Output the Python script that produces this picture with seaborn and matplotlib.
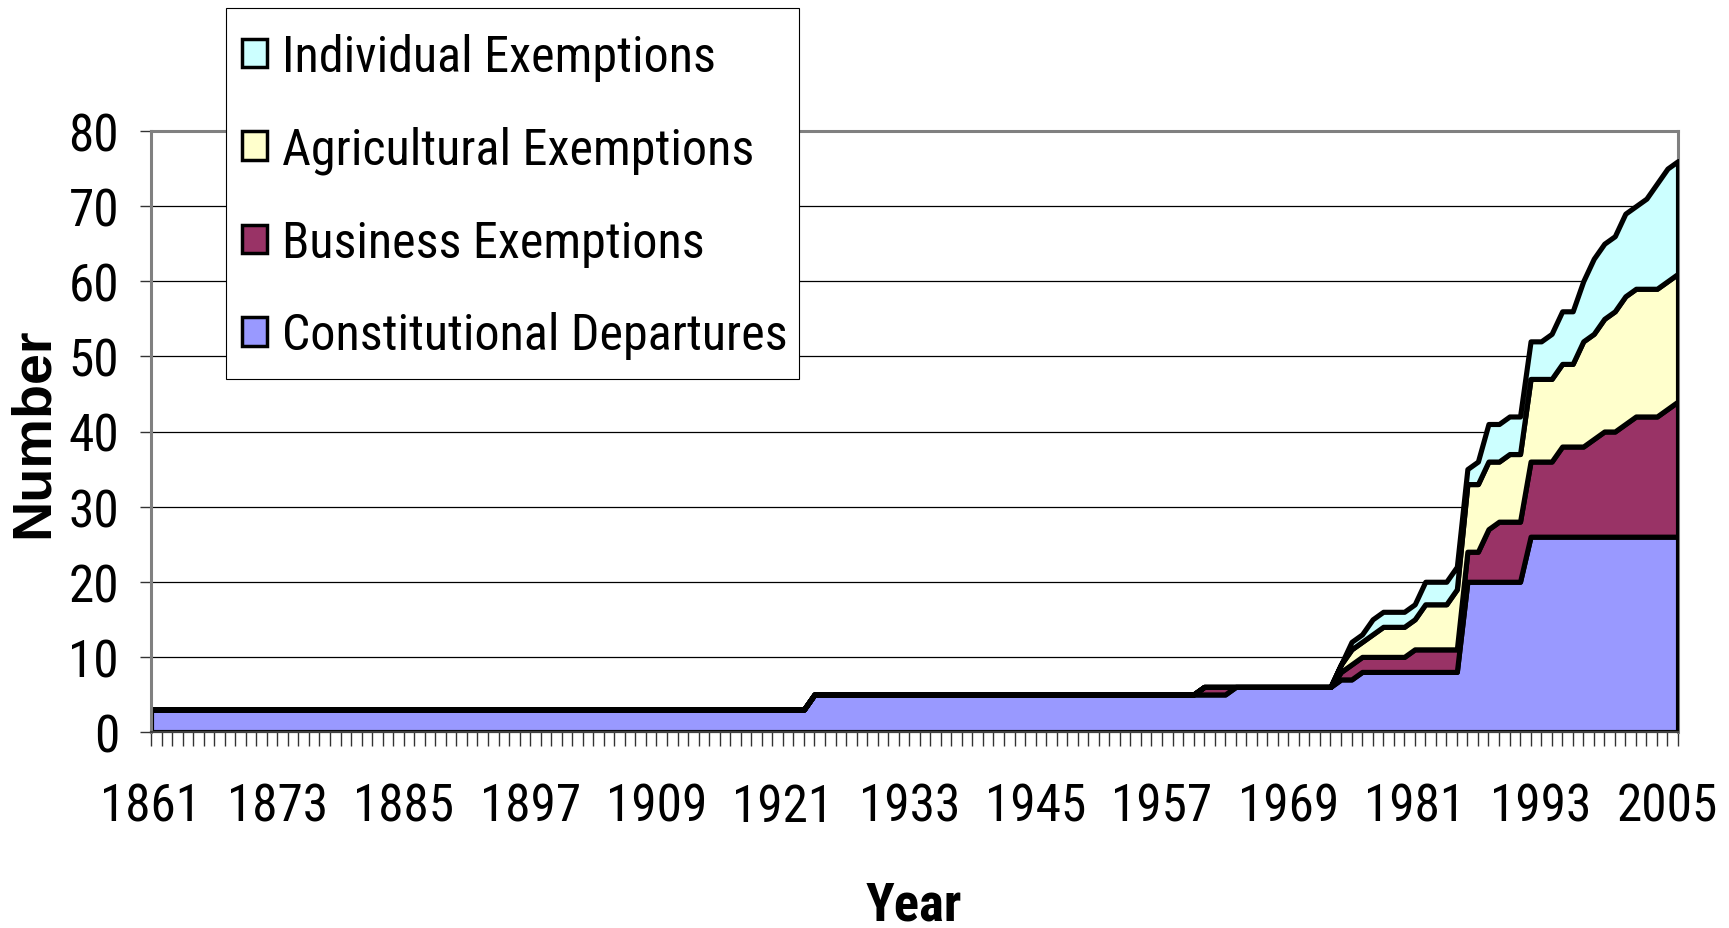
import matplotlib
matplotlib.use("Agg")
import matplotlib.pyplot as plt
import seaborn as sns
import pandas as pd
from matplotlib.patches import Patch, Rectangle
from matplotlib import font_manager as fm
from matplotlib.font_manager import FontProperties
from matplotlib.textpath import TextPath

# ---------------- data ----------------
years = list(range(1861, 2007))
labeled_years = [1861, 1873, 1885, 1897, 1909, 1921, 1933, 1945, 1957, 1969, 1981, 1993, 2005]
y_ticks = [0, 10, 20, 30, 40, 50, 60, 70, 80]

constitutional = [
    3, 3, 3, 3, 3, 3, 3, 3, 3, 3,          # 1861-1870
    3, 3, 3, 3, 3, 3, 3, 3, 3, 3,          # 1871-1880
    3, 3, 3, 3, 3, 3, 3, 3, 3, 3,          # 1881-1890
    3, 3, 3, 3, 3, 3, 3, 3, 3, 3,          # 1891-1900
    3, 3, 3, 3, 3, 3, 3, 3, 3, 3,          # 1901-1910
    3, 3, 3, 3, 3, 3, 3, 3, 3, 3,          # 1911-1920
    3, 3, 3, 5, 5, 5, 5, 5, 5, 5,          # 1921-1930
    5, 5, 5, 5, 5, 5, 5, 5, 5, 5,          # 1931-1940
    5, 5, 5, 5, 5, 5, 5, 5, 5, 5,          # 1941-1950
    5, 5, 5, 5, 5, 5, 5, 5, 5, 5,          # 1951-1960
    5, 5, 5, 6, 6, 6, 6, 6, 6, 6,          # 1961-1970
    6, 6, 6, 7, 7, 8, 8, 8, 8, 8,          # 1971-1980
    8, 8, 8, 8, 8, 20, 20, 20, 20, 20,     # 1981-1990
    20, 26, 26, 26, 26, 26, 26, 26, 26, 26,  # 1991-2000
    26, 26, 26, 26, 26, 26,                # 2001-2006
]
business = [
    0, 0, 0, 0, 0, 0, 0, 0, 0, 0,
    0, 0, 0, 0, 0, 0, 0, 0, 0, 0,
    0, 0, 0, 0, 0, 0, 0, 0, 0, 0,
    0, 0, 0, 0, 0, 0, 0, 0, 0, 0,
    0, 0, 0, 0, 0, 0, 0, 0, 0, 0,
    0, 0, 0, 0, 0, 0, 0, 0, 0, 0,
    0, 0, 0, 0, 0, 0, 0, 0, 0, 0,
    0, 0, 0, 0, 0, 0, 0, 0, 0, 0,
    0, 0, 0, 0, 0, 0, 0, 0, 0, 0,
    0, 0, 0, 0, 0, 0, 0, 0, 0, 0,
    1, 1, 1, 0, 0, 0, 0, 0, 0, 0,          # 1961-1970
    0, 0, 0, 1, 2, 2, 2, 2, 2, 2,          # 1971-1980
    3, 3, 3, 3, 3, 4, 4, 7, 8, 8,          # 1981-1990
    8, 10, 10, 10, 12, 12, 12, 13, 14, 14,  # 1991-2000
    15, 16, 16, 16, 17, 18,                # 2001-2006
]
agricultural = [
    0, 0, 0, 0, 0, 0, 0, 0, 0, 0,
    0, 0, 0, 0, 0, 0, 0, 0, 0, 0,
    0, 0, 0, 0, 0, 0, 0, 0, 0, 0,
    0, 0, 0, 0, 0, 0, 0, 0, 0, 0,
    0, 0, 0, 0, 0, 0, 0, 0, 0, 0,
    0, 0, 0, 0, 0, 0, 0, 0, 0, 0,
    0, 0, 0, 0, 0, 0, 0, 0, 0, 0,
    0, 0, 0, 0, 0, 0, 0, 0, 0, 0,
    0, 0, 0, 0, 0, 0, 0, 0, 0, 0,
    0, 0, 0, 0, 0, 0, 0, 0, 0, 0,
    0, 0, 0, 0, 0, 0, 0, 0, 0, 0,          # 1961-1970
    0, 0, 0, 1, 2, 2, 3, 4, 4, 4,          # 1971-1980
    4, 6, 6, 6, 8, 9, 9, 9, 8, 9,          # 1981-1990
    9, 11, 11, 11, 11, 11, 14, 14, 15, 16,  # 1991-2000
    17, 17, 17, 17, 17, 17,                # 2001-2006
]
individual = [
    0, 0, 0, 0, 0, 0, 0, 0, 0, 0,
    0, 0, 0, 0, 0, 0, 0, 0, 0, 0,
    0, 0, 0, 0, 0, 0, 0, 0, 0, 0,
    0, 0, 0, 0, 0, 0, 0, 0, 0, 0,
    0, 0, 0, 0, 0, 0, 0, 0, 0, 0,
    0, 0, 0, 0, 0, 0, 0, 0, 0, 0,
    0, 0, 0, 0, 0, 0, 0, 0, 0, 0,
    0, 0, 0, 0, 0, 0, 0, 0, 0, 0,
    0, 0, 0, 0, 0, 0, 0, 0, 0, 0,
    0, 0, 0, 0, 0, 0, 0, 0, 0, 0,
    0, 0, 0, 0, 0, 0, 0, 0, 0, 0,          # 1961-1970
    0, 0, 0, 0, 1, 1, 2, 2, 2, 2,          # 1971-1980
    2, 3, 3, 3, 3, 2, 3, 5, 5, 5,          # 1981-1990
    5, 5, 5, 6, 7, 7, 8, 10, 10, 10,       # 1991-2000
    11, 11, 12, 14, 15, 15,                # 2001-2006
]

series_names = ["Constitutional Departures", "Business Exemptions",
                "Agricultural Exemptions", "Individual Exemptions"]
series_colors = ["#9999FF", "#993366", "#FFFFCC", "#CCFFFF"]

df = pd.DataFrame({
    "Year": years,
    series_names[0]: constitutional,
    series_names[1]: business,
    series_names[2]: agricultural,
    series_names[3]: individual,
}).set_index("Year")

# ---------------- style ----------------
sns.set_theme(style="white")
plt.rcParams["font.family"] = ["Liberation Sans", "DejaVu Sans"]

# --- pick the narrowest suitable sans font (the reference uses a condensed Arial look)
BASES = ["Liberation Sans", "Arial", "Noto Sans", "Roboto", "Open Sans",
         "DejaVu Sans", "Lato", "Inter"]
SUFFIX = ["", " Narrow", " Condensed", " SemiCondensed", " Semi Condensed",
          " ExtraCondensed", " Extra Condensed"]
ALLOWED = {b + s for b in BASES for s in SUFFIX}


def _wt(fe):
    w = fe.weight
    if isinstance(w, str):
        w = fm.weight_dict.get(w, 400)
    return int(w)


def _ext(prop, s):
    return TextPath((0, 0), s, size=100, prop=prop).get_extents()


def _ratio(fname):
    try:
        p = FontProperties(fname=fname)
        return _ext(p, "Constitutional Departures").width / _ext(p, "H").height
    except Exception:
        return 1e9


TARGET_RATIO = 10.6
best = None
for fe in fm.fontManager.ttflist:
    if fe.name not in ALLOWED or fe.style != "normal" or _wt(fe) != 400:
        continue
    r = _ratio(fe.fname)
    if r < 8.5 or r > 20:
        continue
    score = abs(r - TARGET_RATIO)
    if best is None or score < best[0]:
        best = (score, fe)

if best is not None:
    reg_fe = best[1]
    REG = FontProperties(fname=reg_fe.fname)
    bold_fe = None
    for fe in fm.fontManager.ttflist:
        if (fe.name == reg_fe.name and fe.stretch == reg_fe.stretch
                and fe.style == "normal" and _wt(fe) == 700):
            bold_fe = fe
            break
    BOLD = FontProperties(fname=bold_fe.fname) if bold_fe else FontProperties(
        family=["Liberation Sans", "DejaVu Sans"], weight="bold")
else:
    REG = FontProperties(family=["Liberation Sans", "DejaVu Sans"])
    BOLD = FontProperties(family=["Liberation Sans", "DejaVu Sans"], weight="bold")

WIDEBOLD = FontProperties(family=["Liberation Sans", "DejaVu Sans"], weight="bold")

PX = 100 / 72.0  # pixels per point at dpi 100


def fit_size(prop, s, width_px, cap_px):
    e = _ext(prop, s)
    hcap = _ext(prop, "H").height
    s_w = width_px / (e.width / 100 * PX)
    s_h = cap_px / (hcap / 100 * PX)
    return min(s_w, s_h)


def sized(prop, size):
    p = prop.copy()
    p.set_size(size)
    return p


tick_size = fit_size(REG, "1861", 88, 38)
leg_size = fit_size(REG, "Constitutional Departures", 500, 42)
year_size = fit_size(BOLD, "Year", 95, 42)
num_size = fit_size(WIDEBOLD, "Number", 206, 42)

W, H = 1729, 929
fig = plt.figure(figsize=(W / 100, H / 100), dpi=100)
fig.patch.set_facecolor("white")
x0, x1, ytop, ybot = 151, 1678, 132, 733
ax = fig.add_axes([x0 / W, (H - ybot) / H, (x1 - x0) / W, (ybot - ytop) / H])
ax.set_facecolor("white")

ax.set_axisbelow(True)
ax.yaxis.grid(True, color="black", linewidth=0.9)
ax.xaxis.grid(False)

ax.stackplot(df.index, [df[n].values for n in series_names],
             colors=series_colors, edgecolor="black", linewidth=3.7, zorder=2)

ax.set_xlim(1861, 2006)
ax.set_ylim(0, 80)
ax.set_yticks(y_ticks)
ax.set_yticklabels([str(v) for v in y_ticks])
ax.set_xticks(years)
ax.set_xticklabels([str(y) if y in labeled_years else "" for y in years])

ax.tick_params(axis="x", bottom=True, direction="out", length=10, width=1.0,
               color="#333333", pad=26, labelcolor="black")
ax.tick_params(axis="y", left=True, direction="out", length=8, width=1.0,
               color="#333333", pad=15, labelcolor="black")
tp = sized(REG, tick_size)
for lbl in ax.get_xticklabels() + ax.get_yticklabels():
    lbl.set_fontproperties(tp)

for side in ["left", "top", "right"]:
    ax.spines[side].set_color("#808080")
    ax.spines[side].set_linewidth(2.2)
ax.spines["right"].set_zorder(1)
ax.spines["bottom"].set_color("#404040")
ax.spines["bottom"].set_linewidth(1.6)

fig.text(914 / W, 1 - 906 / H, "Year", ha="center", va="center",
         fontproperties=sized(BOLD, year_size), color="black")
fig.text(34 / W, 1 - 433 / H, "Number", ha="center", va="center",
         rotation=90, fontproperties=sized(WIDEBOLD, num_size), color="black")

# ---------------- legend ----------------
# frame box drawn separately (figure pixels: 226..799 x 9..380)
LX0, LX1, LY0, LY1 = 226, 799, 9, 380
frame = Rectangle((LX0 / W, 1 - LY1 / H), (LX1 - LX0) / W, (LY1 - LY0) / H,
                  transform=fig.transFigure, facecolor="white",
                  edgecolor="black", linewidth=0.8, zorder=5)
fig.add_artist(frame)

order = [3, 2, 1, 0]
handles = [Patch(facecolor=series_colors[i], edgecolor="black", linewidth=2.5)
           for i in order]
labels = [series_names[i] for i in order]
fs_px = leg_size * PX
lp = sized(REG, leg_size)


def build_legend(ls, top_px):
    lg = fig.legend(handles, labels, loc="upper left",
                    bbox_to_anchor=(242 / W, 1 - top_px / H),
                    bbox_transform=fig.transFigure, prop=lp,
                    frameon=False, borderpad=0, labelspacing=ls,
                    handlelength=25 / fs_px, handleheight=25 / fs_px,
                    handletextpad=15 / fs_px, borderaxespad=0)
    lg.set_zorder(6)
    for t in lg.get_texts():
        t.set_color("black")
    return lg


ls, top_px = 0.6, 30.0
leg = build_legend(ls, top_px)
for _ in range(4):
    fig.canvas.draw()
    r = fig.canvas.get_renderer()
    ts = leg.get_texts()
    e0 = ts[0].get_window_extent(r)
    e3 = ts[-1].get_window_extent(r)
    c0 = H - (e0.y0 + e0.y1) / 2
    c3 = H - (e3.y0 + e3.y1) / 2
    spacing = (c3 - c0) / 3.0
    ls = max(0.05, ls + (92.7 - spacing) / fs_px)
    top_px = top_px + (58 - c0)
    leg.remove()
    leg = build_legend(ls, top_px)

fig.savefig("out.png", dpi=100, facecolor="white")
